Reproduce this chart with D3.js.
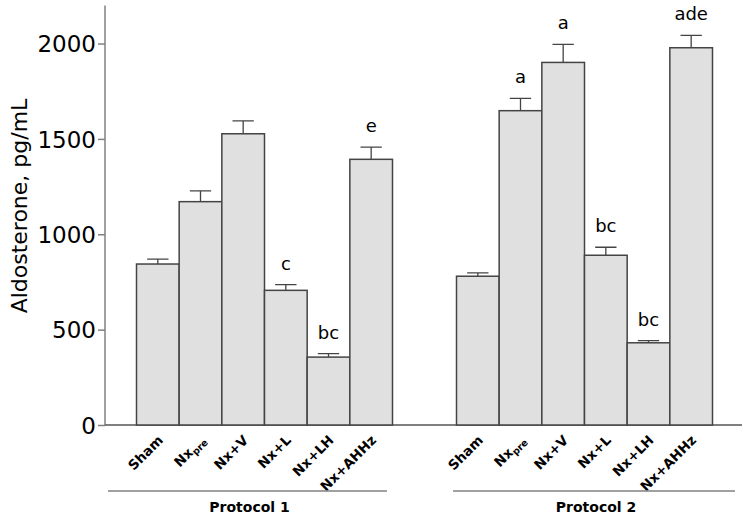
<!DOCTYPE html>
<html>
<head>
<meta charset="utf-8">
<script src="https://cdn.jsdelivr.net/npm/d3@7"></script>
<style>
  html, body { margin: 0; padding: 0; background: #fff; }
  svg { display: block; }
</style>
</head>
<body>
<svg id="chart" width="749" height="518"></svg>
<script>
// ---- data ----
const categories = ["Sham", "Nx|pre", "Nx+V", "Nx+L", "Nx+LH", "Nx+AHHz"];
const protocols = ["Protocol 1", "Protocol 2"];
const protocol1Means = [844, 1171, 1527, 706, 356, 1393];
const protocol1Errors = [26, 57, 68, 30, 18, 64];
const protocol1Labels = ["", "", "", "c", "bc", "e"];
const protocol2Means = [780, 1648, 1901, 890, 431, 1978];
const protocol2Errors = [18, 65, 95, 42, 11, 65];
const protocol2Labels = ["", "a", "a", "bc", "bc", "ade"];
const yTicks = [0, 500, 1000, 1500, 2000];
const yTitle = "Aldosterone, pg/mL";

// ---- layout ----
const svg = d3.select("#chart");
const font = "'DejaVu Sans', Verdana, sans-serif";
const axisColor = "#808080";
const y = d3.scaleLinear().domain([0, 2200]).range([425, 5.4]);
const xScales = [
  d3.scaleBand().domain(categories).range([136.5, 392.5]).padding(0),
  d3.scaleBand().domain(categories).range([456.5, 712.5]).padding(0)
];
const groups = [
  { means: protocol1Means, errs: protocol1Errors, labels: protocol1Labels, x: xScales[0], name: protocols[0], line: [108, 387] },
  { means: protocol2Means, errs: protocol2Errors, labels: protocol2Labels, x: xScales[1], name: protocols[1], line: [453, 735] }
];

// y axis
const yAxis = d3.axisLeft(y).tickValues(yTicks).tickSize(7).tickPadding(2).tickFormat(d3.format("d"));
const gy = svg.append("g").attr("transform", "translate(105,0)").call(yAxis);
gy.select(".domain").attr("stroke", axisColor).attr("stroke-width", 1.5).attr("d", `M0,${y(2200)}V${y(0)}`);
gy.selectAll(".tick line").attr("stroke", axisColor).attr("stroke-width", 1.5);
gy.selectAll(".tick text").attr("font-family", font).attr("font-size", 23).attr("fill", "#000").attr("dy", "0.36em");

// x baseline
svg.append("line").attr("x1", 105).attr("x2", 742).attr("y1", y(0)).attr("y2", y(0))
  .attr("stroke", "#555").attr("stroke-width", 1.5);

// y title
svg.append("text").attr("transform", `translate(27,${206}) rotate(-90)`)
  .attr("text-anchor", "middle").attr("font-family", font).attr("font-size", 22).text(yTitle);

groups.forEach(gd => {
  const g = svg.append("g");
  const bw = gd.x.bandwidth();
  const rows = categories.map((c, i) => ({ c, m: gd.means[i], e: gd.errs[i], l: gd.labels[i] }));
  // error bars
  g.selectAll(".err").data(rows).join("path")
    .attr("d", d => {
      const cx = gd.x(d.c) + bw / 2, top = y(d.m + d.e);
      return `M${cx},${y(d.m)}V${top}M${cx - bw / 4},${top}H${cx + bw / 4}`;
    })
    .attr("fill", "none").attr("stroke", "#444").attr("stroke-width", 1.3);
  // bars
  g.selectAll(".bar").data(rows).join("rect")
    .attr("x", d => gd.x(d.c)).attr("width", bw)
    .attr("y", d => y(d.m)).attr("height", d => y(0) - y(d.m))
    .attr("fill", "#e0e0e0").attr("stroke", "#444").attr("stroke-width", 1.5);
  // significance letters
  g.selectAll(".sig").data(rows.filter(d => d.l)).join("text")
    .attr("x", d => gd.x(d.c) + bw / 2).attr("y", d => y(d.m + d.e) - 15)
    .attr("text-anchor", "middle").attr("font-family", font).attr("font-size", 18).text(d => d.l);
  // category labels
  rows.forEach(d => {
    const cx = gd.x(d.c) + bw / 2;
    const t = g.append("text").attr("transform", `translate(${cx + 6},${441}) rotate(-45)`)
      .attr("text-anchor", "end").attr("font-family", font).attr("font-size", 13.5).attr("font-weight", "bold");
    const parts = d.c.split("|");
    t.append("tspan").text(parts[0]);
    if (parts[1]) t.append("tspan").attr("font-size", 9.5).attr("dy", 3).text(parts[1]);
  });
  // protocol line + label
  g.append("line").attr("x1", gd.line[0]).attr("x2", gd.line[1]).attr("y1", 491).attr("y2", 491)
    .attr("stroke", axisColor).attr("stroke-width", 1.5);
  g.append("text").attr("x", (gd.line[0] + gd.line[1]) / 2 + 2).attr("y", 512)
    .attr("text-anchor", "middle").attr("font-family", font).attr("font-size", 14).attr("font-weight", "bold")
    .text(gd.name);
});
</script>
</body>
</html>
